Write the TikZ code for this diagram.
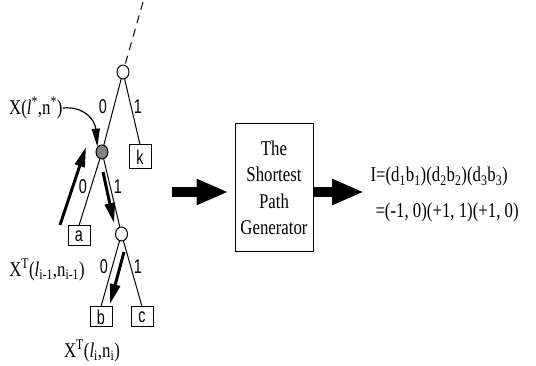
\documentclass[tikz,border=0pt]{standalone}
\usepackage{fontspec}
\setmainfont{Liberation Serif}
\newfontfamily\tnr[FakeStretch=0.8]{Liberation Serif}
\newfontfamily\hlv[FakeStretch=0.72]{Liberation Sans}
\usetikzlibrary{shapes.geometric, arrows.meta}

\begin{document}
\begin{tikzpicture}[x=1pt, y=-1pt, line width=1pt,
  knot/.style={ellipse, draw, fill=white, minimum width=12pt, minimum height=14pt, inner sep=0pt},
  leaf/.style={draw, minimum width=22pt, minimum height=20pt, inner sep=0pt, font=\hlv\fontsize{20}{20}\selectfont},
  bit/.style={inner sep=0pt, font=\hlv\fontsize{20}{20}\selectfont},
  lbl/.style={inner sep=0pt, font=\tnr\fontsize{21}{26.5}\selectfont},
  walk/.style={line width=3pt, -{Triangle[length=20pt, width=10pt]}},
  bigarrow/.style={line width=10pt, -{Triangle[length=32pt, width=24pt]}}]
\useasboundingbox (0,0) rectangle (536,366);

% the tree
\node[knot] (r) at (123,72) {};
\node[knot, fill=gray] (s) at (102,152) {};
\node[knot] (m) at (121.5,234) {};
\node[leaf, minimum height=24pt] (k) at (140,157) {k};
\node[leaf] (a) at (79,236) {a};
\node[leaf] (b) at (101,317) {b};
\node[leaf] (c) at (142,317) {c};

\coordinate (up) at (143,2);
\draw[dash pattern=on 8pt off 6pt] (up) -- (r);

\draw (r) -- (s);
\draw (r) -- (k.north);
\draw (s) -- (a.north);
\draw (s) -- (m);
\draw (m) -- (b.north);
\draw (m) -- (c.north);

\node[bit] (e1) at (103,107) {0};
\node[bit] (e2) at (138,107) {1};
\node[bit] (e3) at (83,187) {0};
\node[bit] (e4) at (118,187) {1};
\node[bit] (e5) at (104,267) {0};
\node[bit] (e6) at (138,267) {1};

% labels of the nodes
\node[lbl, anchor=east] (xs) at (63,108) {X(\textit{l}\textsuperscript{*},n\textsuperscript{*})};
\draw[line width=1.2pt, -{Triangle[length=18pt, width=8pt]}] (xs.east) .. controls (84,106) and (95,120) .. (s.north west);
\node[lbl] (pa) at (47,270) {X\textsuperscript{T}(\textit{l}\textsubscript{i-1},n\textsubscript{i-1})};
\node[lbl] (pb) at (92,351) {X\textsuperscript{T}(\textit{l}\textsubscript{i},n\textsubscript{i})};

% path walked
\coordinate (w0) at (60,225);
\coordinate (w1) at (86,147);
\coordinate (w2) at (103,172);
\coordinate (w3) at (114,223);
\coordinate (w4) at (124,252);
\coordinate (w5) at (110,304);
\draw[walk] (w0) -- (w1);
\draw[walk] (w2) -- (w3);
\draw[walk] (w4) -- (w5);

% generator
\node[draw, lbl, minimum width=78pt, minimum height=128pt, align=center] (gen) at (274,188) {The\\Shortest\\Path\\Generator};

\coordinate (in) at (172,192);
\coordinate (out) at (364,192);
\draw[bigarrow, shorten >=6pt] (in) -- (in -| gen.west);
\draw[bigarrow] (gen.east |- in) -- (out);

\node[lbl, anchor=base west] (res1) at (370,182) {I=(d\textsubscript{1}b\textsubscript{1})(d\textsubscript{2}b\textsubscript{2})(d\textsubscript{3}b\textsubscript{3})};
\node[lbl, anchor=base west] (res2) at (375,218) {=(-1, 0)(+1, 1)(+1, 0)};
\end{tikzpicture}
\end{document}
